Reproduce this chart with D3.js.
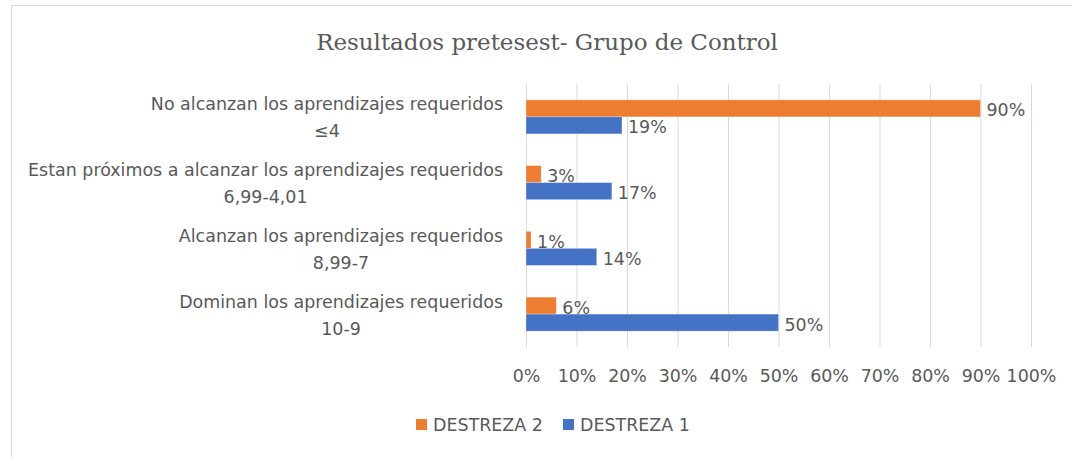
<!DOCTYPE html>
<html>
<head>
<meta charset="utf-8">
<script src="https://cdn.jsdelivr.net/npm/d3@7"></script>
<style>
  html, body { margin: 0; padding: 0; background: #fff; }
  svg { display: block; }
</style>
</head>
<body>
<svg id="chart" width="1072" height="457"></svg>
<script>
const title = "Resultados pretesest- Grupo de Control";
const categories = [
  ["No alcanzan los aprendizajes requeridos", "≤4"],
  ["Estan próximos a alcanzar los aprendizajes requeridos", "6,99-4,01"],
  ["Alcanzan los aprendizajes requeridos", "8,99-7"],
  ["Dominan los aprendizajes requeridos", "10-9"]
];
const seriesNames = ["DESTREZA 2", "DESTREZA 1"];
const destreza2 = [0.90, 0.03, 0.01, 0.06];
const destreza1 = [0.19, 0.17, 0.14, 0.50];
const tickValues = [0, 0.1, 0.2, 0.3, 0.4, 0.5, 0.6, 0.7, 0.8, 0.9, 1.0];
const colors = ["#ED7D31", "#4472C4"];

const svg = d3.select("#chart");
const textColor = "#595959";
const labelFont = "'DejaVu Sans', sans-serif";

// fit label font size so the longest category line matches the reference width
const probe = svg.append("text").style("font-family", labelFont).style("font-size", "16px")
  .text(categories[1][0]);
const fs = 16 * 475 / probe.node().getComputedTextLength();
probe.remove();
const fsPx = fs + "px";

// chart frame
svg.append("rect")
  .attr("x", 11.5).attr("y", 5.5)
  .attr("width", 1100).attr("height", 500)
  .attr("fill", "#fff").attr("stroke", "#d9d9d9").attr("stroke-width", 1);

// title
const t = svg.append("text")
  .attr("x", 547).attr("y", 50)
  .attr("text-anchor", "middle")
  .attr("fill", textColor)
  .style("font-family", "'DejaVu Serif', serif")
  .style("font-size", "22px")
  .text(title);
const tw = t.node().getComputedTextLength();
t.style("font-size", (22 * 462 / tw) + "px");

const x = d3.scaleLinear().domain([0, 1]).range([526, 1031]);
const catIdx = categories.map((d, i) => i);
const y = d3.scaleBand().domain(catIdx).range([84, 347]).paddingInner(0.483).paddingOuter(0.2415);
const ySub = d3.scaleBand().domain([0, 1]).range([0, y.bandwidth()]);

// gridlines
const grid = d3.axisBottom(x).tickValues(tickValues).tickSize(347 - 84).tickFormat("");
svg.append("g").attr("transform", "translate(0,84)").call(grid)
  .call(g => g.select(".domain").remove())
  .call(g => g.selectAll("line").attr("stroke", "#d9d9d9").attr("stroke-width", 1));

// tick labels
const axis = d3.axisBottom(x).tickValues(tickValues).tickSize(0).tickPadding(0)
  .tickFormat(d3.format(".0%"));
svg.append("g").attr("transform", "translate(0,370)").call(axis)
  .call(g => g.select(".domain").remove())
  .call(g => g.selectAll("text").attr("fill", textColor)
     .style("font-family", labelFont).style("font-size", fsPx));

// bars
const data = [destreza2, destreza1];
data.forEach((vals, s) => {
  const g = svg.append("g");
  g.selectAll("rect").data(vals).join("rect")
    .attr("x", x(0))
    .attr("y", (d, i) => y(i) + ySub(s))
    .attr("width", d => x(d) - x(0))
    .attr("height", ySub.bandwidth())
    .attr("fill", colors[s])
    .attr("stroke", "#fff").attr("stroke-opacity", 0.35).attr("stroke-width", 0.75);
  g.selectAll("text").data(vals).join("text")
    .attr("x", d => x(d) + 6)
    .attr("y", (d, i) => y(i) + ySub(s) + ySub.bandwidth() / 2 + 2)
    .attr("dy", "0.35em")
    .attr("fill", textColor)
    .style("font-family", labelFont).style("font-size", fsPx)
    .text(d => d3.format(".0%")(d));
});

// category labels
const catG = svg.append("g");
categories.forEach((lines, i) => {
  const cy = y(i) + y.bandwidth() / 2;
  const tmp = lines.map((l, k) => catG.append("text")
    .attr("fill", textColor)
    .style("font-family", labelFont).style("font-size", fsPx)
    .attr("text-anchor", "middle")
    .text(l));
  const w = d3.max(tmp, n => n.node().getComputedTextLength());
  const cx = 503 - w / 2;
  const lh = 27;
  tmp.forEach((n, k) => {
    n.attr("x", cx).attr("y", cy + 1 + (k - (lines.length - 1) / 2) * lh).attr("dy", "0.35em");
  });
});

// legend
const legend = svg.append("g");
const legendX = [416, 563];
seriesNames.forEach((name, s) => {
  legend.append("rect")
    .attr("x", legendX[s]).attr("y", 419).attr("width", 11).attr("height", 11)
    .attr("fill", colors[s]);
  legend.append("text")
    .attr("x", legendX[s] + 17).attr("y", 424.5).attr("dy", "0.35em")
    .attr("fill", textColor)
    .style("font-family", labelFont).style("font-size", fsPx)
    .text(name);
});
</script>
</body>
</html>
